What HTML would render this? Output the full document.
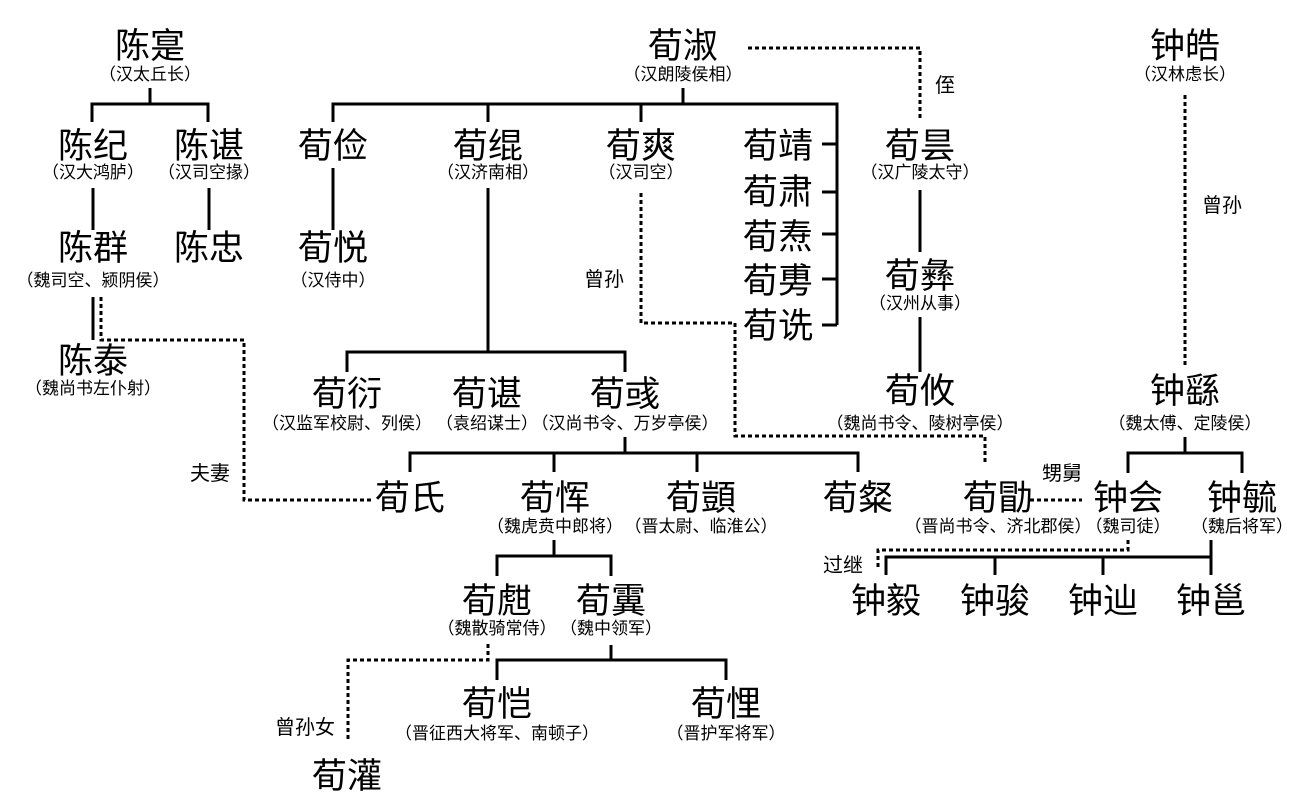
<!DOCTYPE html>
<html><head><meta charset="utf-8"><style>
html,body{margin:0;padding:0;background:#fff;}
svg{display:block;}
text{font-family:"Liberation Sans","Noto Sans CJK SC",sans-serif;fill:#000;text-anchor:middle;}
.n{font-size:35px;}
.s{font-size:17px;}
.l{font-size:20px;}
.ln{stroke:#000;stroke-width:3;fill:none;}
.dt{stroke:#000;stroke-width:3;fill:none;stroke-dasharray:4 3;}
</style></head><body>
<svg width="1307" height="807" viewBox="0 0 1307 807" xmlns="http://www.w3.org/2000/svg">
<text class="n" x="150" y="58">陈寔</text><text class="s" x="150" y="80">（汉太丘长）</text>
<path class="ln" d="M150 88V104M92 122V104H208V122"/>
<text class="n" x="93" y="158">陈纪</text><text class="s" x="93" y="178">（汉大鸿胪）</text>
<text class="n" x="209" y="158">陈谌</text><text class="s" x="209" y="178">（汉司空掾）</text>
<path class="ln" d="M93 188V230M209 188V230"/>
<text class="n" x="93" y="260">陈群</text><text class="s" x="93" y="286">（魏司空、颍阴侯）</text>
<text class="n" x="209" y="260">陈忠</text>
<path class="ln" d="M93 297V340"/>
<path class="dt" d="M101 297V340H244V500H372"/>
<text class="l" x="210" y="480">夫妻</text>
<text class="n" x="93" y="373">陈泰</text><text class="s" x="93" y="394">（魏尚书左仆射）</text>

<text class="n" x="683" y="58">荀淑</text><text class="s" x="683" y="80">（汉朗陵侯相）</text>
<path class="dt" d="M748 48H920V120"/>
<text class="l" x="945" y="92">侄</text>
<path class="ln" d="M683 88V104M333 122V104H837V325M488 104V122M641 104V122"/>
<path class="ln" d="M822 144H837M822 192H837M822 234H837M822 279H837M822 325H837"/>
<text class="n" x="333" y="158">荀俭</text>
<path class="ln" d="M333 168V230"/>
<text class="n" x="333" y="260">荀悦</text><text class="s" x="333" y="286">（汉侍中）</text>
<text class="n" x="488" y="158">荀绲</text><text class="s" x="488" y="178">（汉济南相）</text>
<path class="ln" d="M488 188V352"/>
<text class="n" x="641" y="158">荀爽</text><text class="s" x="641" y="178">（汉司空）</text>
<path class="dt" d="M641 193V323H735V436H985V465"/>
<text class="l" x="604" y="286">曾孙</text>
<text class="n" x="778" y="158">荀靖</text>
<text class="n" x="778" y="204">荀肃</text>
<text class="n" x="778" y="249">荀焘</text>
<text class="n" x="778" y="293">荀旉</text>
<text class="n" x="778" y="338">荀诜</text>

<text class="n" x="920" y="158">荀昙</text><text class="s" x="920" y="178">（汉广陵太守）</text>
<path class="ln" d="M920 190V252M920 317V372"/>
<text class="n" x="920" y="288">荀彝</text><text class="s" x="920" y="309">（汉州从事）</text>
<text class="n" x="920" y="403">荀攸</text><text class="s" x="920" y="429">（魏尚书令、陵树亭侯）</text>

<path class="ln" d="M347 372V352H625V372"/>
<text class="n" x="347" y="406">荀衍</text><text class="s" x="347" y="429">（汉监军校尉、列侯）</text>
<text class="n" x="487" y="406">荀谌</text><text class="s" x="487" y="429">（袁绍谋士）</text>
<text class="n" x="625" y="406">荀彧</text><text class="s" x="625" y="429">（汉尚书令、万岁亭侯）</text>
<path class="ln" d="M625 437V453M410 472V453H858V472M554 453V472M697 453V472"/>
<text class="n" x="410" y="510">荀氏</text>
<text class="n" x="555" y="510">荀恽</text><text class="s" x="555" y="532">（魏虎贲中郎将）</text>
<text class="n" x="701" y="510">荀顗</text><text class="s" x="701" y="532">（晋太尉、临淮公）</text>
<text class="n" x="858" y="510">荀粲</text>
<path class="ln" d="M554 540V556M497 576V556H611V576"/>
<text class="n" x="497" y="613">荀甝</text><text class="s" x="497" y="634">（魏散骑常侍）</text>
<text class="n" x="611" y="613">荀霬</text><text class="s" x="611" y="634">（魏中领军）</text>
<path class="dt" d="M488 644V660H348V740"/>
<text class="l" x="305" y="734">曾孙女</text>
<text class="n" x="347" y="788">荀灌</text>
<path class="ln" d="M611 645V660M497 680V660H726V680"/>
<text class="n" x="497" y="716">荀恺</text><text class="s" x="497" y="739">（晋征西大将军、南顿子）</text>
<text class="n" x="726" y="716">荀悝</text><text class="s" x="726" y="739">（晋护军将军）</text>

<text class="n" x="998" y="510">荀勖</text><text class="s" x="998" y="532">（晋尚书令、济北郡侯）</text>
<path class="dt" d="M1030 500H1082"/>
<text class="l" x="1062" y="480">甥舅</text>

<text class="n" x="1185" y="58">钟皓</text><text class="s" x="1185" y="80">（汉林虑长）</text>
<path class="dt" d="M1185 95V365"/>
<text class="l" x="1222" y="212">曾孙</text>
<text class="n" x="1185" y="403">钟繇</text><text class="s" x="1185" y="429">（魏太傅、定陵侯）</text>
<path class="ln" d="M1185 437V453M1128 473V453H1242V473"/>
<text class="n" x="1128" y="510">钟会</text><text class="s" x="1128" y="532">（魏司徒）</text>
<text class="n" x="1242" y="510">钟毓</text><text class="s" x="1242" y="532">（魏后将军）</text>
<path class="dt" d="M1128 540V550H878V570"/>
<text class="l" x="843" y="572">过继</text>
<path class="ln" d="M1211 540V575M886 575V557H1211M995 557V575M1103 557V575"/>
<text class="n" x="886" y="613">钟毅</text>
<text class="n" x="995" y="613">钟骏</text>
<text class="n" x="1103" y="613">钟辿</text>
<text class="n" x="1211" y="613">钟邕</text>
</svg>
</body></html>
